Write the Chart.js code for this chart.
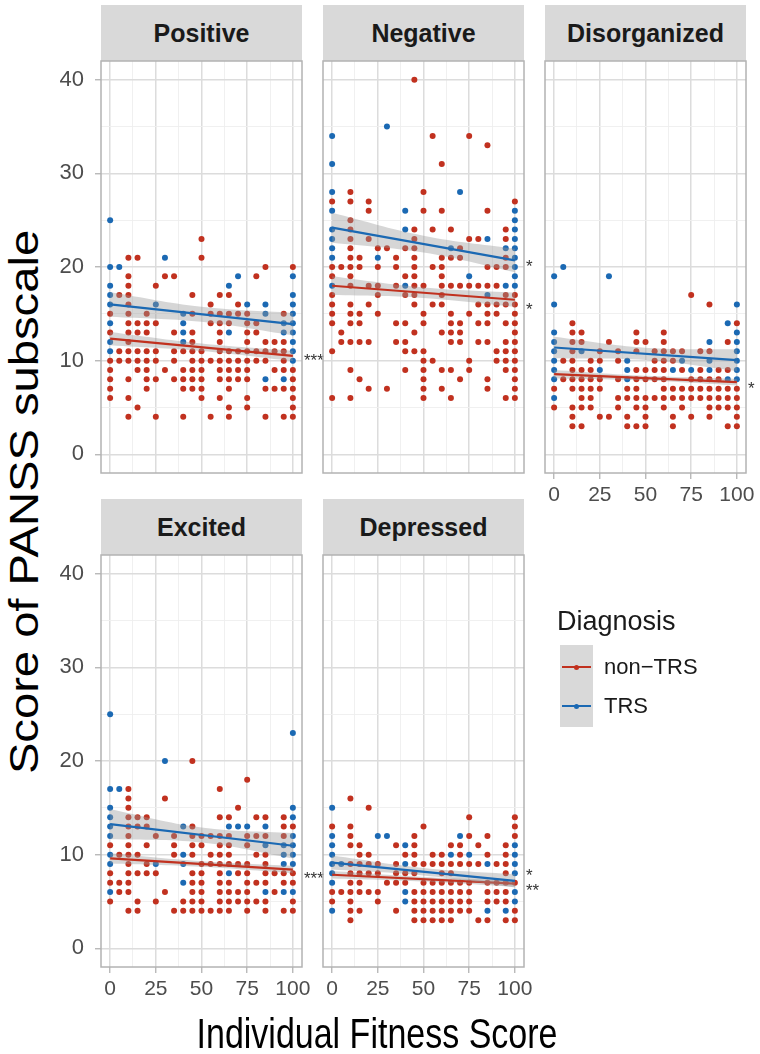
<!DOCTYPE html>
<html>
<head>
<meta charset="utf-8">
<script src="https://cdn.jsdelivr.net/npm/chart.js@4.4.1/dist/chart.umd.min.js"></script>
<style>
  body { margin: 0; background: #fff; width: 760px; height: 1054px; position: relative; overflow: hidden;
         font-family: "Liberation Sans", Arial, sans-serif; }
  canvas { position: absolute; }
  .strip { position: absolute; background: #d9d9d9; color: #1a1a1a; font-weight: bold; font-size: 25px;
           text-align: center; }
  .txt { position: absolute; white-space: nowrap; color: #000; }
</style>
</head>
<body>
<div id="root"></div>
<script>
// facets
var panelNames = ['Positive', 'Negative', 'Disorganized', 'Excited', 'Depressed'];

// tick labels
var xMajor = [0, 25, 50, 75, 100];
var xMinor = [12.5, 37.5, 62.5, 87.5];
var yMajor = [0, 10, 20, 30, 40];
var yMinor = [5, 15, 25, 35];

// points: [fitness score, [PANSS scores at that x]]
var positiveNonTRS = [[0,[15,13,10,9,8,7,6]],[5,[17,11,10]],[10,[21,19,18,17,16,15,14,13,12,11,10,8,6,4]],
  [15,[21,14,13,11,10,9,5]],[20,[15,14,13,11,10,9,8,7]],[25,[18,14,11,10,8,4]],[30,[19,9]],[35,[19,13,11,10,8]],
  [40,[11,9,8,7,4]],[45,[17,15,13,12,11,10,9,8,7]],[50,[23,21,11,10,9,8,7,6]],[55,[16,15,14,10,4]],
  [60,[17,15,14,13,12,11,10,9,8,6]],[65,[17,15,14,11,10,9,8,7,5,4]],[70,[16,15,11,10,9,8]],
  [75,[15,14,13,12,11,10,9,8,6,5]],[80,[19,14,13,11,10]],[85,[20,12,11,10,7,4]],[90,[12,11,9,7]],
  [95,[15,12,11,10,9,7,4]],[100,[20,9,8,7,6,5,4]]];
var positiveTRS = [[0,[25,20,18,17,16,14,12,11]],[5,[20]],[25,[16]],[30,[21]],[40,[15,14,13,12]],[65,[18,13]],
  [70,[19]],[75,[16]],[85,[16,15,8]],[95,[14,13,8]],[100,[19,17,16,15,14,13,12,11,10]]];

var negativeNonTRS = [[0,[27,20,19,17,16,15,14,11,6]],[5,[20,13,12]],[10,[28,27,25,24,23,22,21,20,19,18,16,15,14,12,9,6]],
  [15,[21,20,15,14,12,8]],[20,[27,26,23,18,16,12,7]],[25,[22,20,18,17,15]],[30,[22,7]],[35,[21,20,18,14,12]],
  [40,[22,19,17,14,12,11,9]],[45,[40,24,23,22,21,20,19,18,17,16,13,11]],[50,[28,26,18,15,14,11,10,9,8,7,6]],
  [55,[34,24,20,16,10]],[60,[31,26,21,20,19,18,17,16,13,9,7]],[65,[24,21,18,15,14,13,12,9,6]],
  [70,[22,21,18,14,13,12,8]],[75,[34,23,18,15,10,9]],[80,[23,18,16,14,12]],[85,[33,26,20,18,16,15,14,12,8,7]],
  [90,[20,18,16,15,11,10]],[95,[24,23,21,20,17,16,14,12,11,10,9,6]],[100,[27,17,16,15,14,13,12,11,10,9,8,7,6]]];
var negativeTRS = [[0,[34,31,28,26,24,23,22,21,18]],[25,[21]],[30,[35]],[40,[26,24,18]],[65,[22]],[70,[28]],
  [75,[19]],[85,[23,17]],[95,[22,18]],[100,[26,25,24,23,22,21,20,19,18]]];

var disorganizedNonTRS = [[0,[7,5]],[5,[10,8]],[10,[14,13,12,11,10,9,8,7,5,4,3]],[15,[13,12,9,8,7,6,5,3]],
  [20,[10,9,8,7,6,5]],[25,[11,10,8,7,4]],[30,[12,4]],[35,[11,10,8,6,5]],[40,[7,6,4,3]],[45,[13,12,11,9,8,7,6,5,3]],
  [50,[12,9,8,6,5,4,3]],[55,[11,10,9,8,6]],[60,[13,12,11,10,9,8,7,6,5]],[65,[11,10,7,6,4,3]],[70,[11,9,7,6,5]],
  [75,[17,8,7,6,4]],[80,[11,9,8,7,6]],[85,[16,11,8,7,6,5,4]],[90,[9,8,7,6,5]],[95,[12,9,7,6,5,3]],
  [100,[14,7,6,5,4,3]]];
var disorganizedTRS = [[0,[19,16,13,12,11,10,9,8,6]],[5,[20]],[15,[11]],[25,[9]],[30,[19]],[40,[10,9,8]],[65,[9]],
  [70,[10]],[75,[9]],[85,[12,10,9]],[95,[14,8]],[100,[16,13,12,11,10,9,8]]];

var excitedNonTRS = [[0,[11,8,7,5]],[5,[10,7,6]],[10,[17,16,15,14,13,12,11,10,9,8,7,6,4]],[15,[14,13,10,8,5,4]],
  [20,[14,13,11,9,8]],[25,[12,8,5]],[30,[16,6]],[35,[12,11,10,4]],[40,[5,4]],[45,[20,13,12,11,10,8,7,6,5,4]],
  [50,[12,11,9,8,7,6,5,4]],[55,[12,10,9,4]],[60,[17,14,12,11,10,9,8,7,6,5,4]],[65,[14,12,11,10,9,7,6,5,4]],
  [70,[15,9,8,6,5]],[75,[18,12,11,9,8,7,6,5,4]],[80,[14,12,10,7,5]],[85,[14,12,10,9,8,7,5,4]],[90,[8,6]],
  [95,[14,13,12,8,7,4]],[100,[13,8,7,5,4]]];
var excitedTRS = [[0,[25,17,15,14,13,12,10,9,6]],[5,[17]],[25,[9]],[30,[20]],[40,[13,10,9,7]],[65,[13,8]],
  [70,[13]],[75,[13]],[85,[13,11,6]],[95,[11,10,9,6]],[100,[23,15,14,12,11,10,9,6]]];

var depressedNonTRS = [[0,[13,6,5]],[5,[6]],[10,[16,13,12,11,9,8,7,6,5,4,3]],[15,[11,10,9,8,7,6,4]],
  [20,[15,10,9,8,6]],[25,[9,8,6,5]],[30,[7]],[35,[11,9,8,7,4]],[40,[10,8,7]],[45,[12,11,10,9,8,6,5,4,3]],
  [50,[13,9,7,6,5,4,3]],[55,[10,9,7,6,5,4,3]],[60,[10,9,8,7,6,5,4,3]],[65,[11,9,8,7,6,5,4,3]],
  [70,[11,10,9,7,6,5,4]],[75,[14,12,9,7,6,5,4]],[80,[11,9,3]],[85,[12,10,7,6,5,3]],[90,[9,7,6,5]],
  [95,[11,10,9,8,7,6,5,3]],[100,[14,13,12,7,4,3]]];
var depressedTRS = [[0,[15,12,11,10,9,8,7,4]],[5,[9]],[25,[12]],[30,[12]],[40,[11,9,6,5]],[65,[10]],[70,[12]],
  [75,[10]],[85,[9,4]],[95,[4]],[100,[11,10,9,8,6,5]]];

// fitted lines: value at x = 0 and x = 100, per panel
var fitNonTRS = [[12.35, 10.5], [18.0, 16.5], [8.55, 7.7], [9.6, 8.4], [7.85, 6.9]];
var fitTRS = [[16.0, 13.9], [24.2, 20.7], [11.4, 10.05], [13.25, 10.95], [9.15, 7.2]];
// confidence band half widths at x = 0, 50, 100
var bandNonTRS = [[0.7, 0.4, 0.55], [1.0, 0.55, 0.75], [0.45, 0.25, 0.35], [0.55, 0.3, 0.4], [0.4, 0.25, 0.35]];
var bandTRS = [[1.3, 0.8, 1.2], [1.6, 0.9, 1.25], [1.15, 0.65, 1.15], [1.6, 0.8, 1.35], [0.75, 0.4, 0.7]];
// significance marks at the right edge: [text, y]
var sigMarks = [[['***', 10.5]], [['*', 20.5], ['*', 15.9]], [['*', 7.5]], [['***', 7.9]], [['*', 8.2], ['**', 6.7]]];

var pointSets = [
  [positiveNonTRS, positiveTRS], [negativeNonTRS, negativeTRS], [disorganizedNonTRS, disorganizedTRS],
  [excitedNonTRS, excitedTRS], [depressedNonTRS, depressedTRS]
];

// layout: plot left, plot top, y labels, x labels
var boxes = [[101, 61, true, false], [323, 61, false, false], [545, 61, false, true],
             [101, 555, true, true], [323, 555, false, true]];
var PW = 201, PH = 412, PADL = 4, PADT = 4, PADR = 34, PADB = 4, YW = 50, XH = 42;

var RED = '#c1311f', BLUE = '#1b69b3';
var FONT = '"Liberation Sans", Arial, sans-serif';

function expand(cols) {
  var pts = [];
  cols.forEach(function (c) {
    c[1].forEach(function (y) { pts.push({ x: c[0], y: y }); });
  });
  return pts;
}

function bandEdge(fit, band, sign) {
  var mid = (fit[0] + fit[1]) / 2;
  return [{ x: 0, y: fit[0] + sign * band[0] }, { x: 50, y: mid + sign * band[1] }, { x: 100, y: fit[1] + sign * band[2] }];
}

function isMajor(v, majors) { return majors.indexOf(v) >= 0; }

function makeScale(axis, showLabels) {
  var majors = axis === 'x' ? xMajor : yMajor;
  var minors = axis === 'x' ? xMinor : yMinor;
  var all = majors.concat(minors).sort(function (a, b) { return a - b; });
  return {
    type: 'linear',
    min: axis === 'x' ? -5 : -2,
    max: axis === 'x' ? 105 : 42,
    afterBuildTicks: function (s) { s.ticks = all.map(function (v) { return { value: v }; }); },
    afterFit: function (s) {
      if (axis === 'x') s.height = showLabels ? XH : 0;
      else s.width = showLabels ? YW : 0;
      s.paddingLeft = 0; s.paddingRight = 0; s.paddingTop = 0; s.paddingBottom = 0;
    },
    ticks: {
      display: showLabels,
      autoSkip: false,
      maxRotation: 0,
      padding: axis === 'x' ? 4 : 11,
      color: '#4d4d4d',
      font: { size: axis === 'x' ? 21 : 22, family: FONT },
      callback: function (v) { return isMajor(v, majors) ? String(v) : ''; }
    },
    grid: {
      color: function (c) { return isMajor(c.tick.value, majors) ? '#dcdcdc' : '#eeeeee'; },
      lineWidth: function (c) { return isMajor(c.tick.value, majors) ? 1.5 : 0.9; },
      drawTicks: showLabels,
      tickLength: 6,
      tickWidth: 1.3,
      tickColor: function (c) { return isMajor(c.tick.value, majors) ? '#b3b3b3' : 'rgba(0,0,0,0)'; }
    },
    border: { display: false }
  };
}

function decoPlugin(idx) {
  return {
    id: 'deco',
    afterDraw: function (chart) {
      var a = chart.chartArea, ctx = chart.ctx, ys = chart.scales.y;
      ctx.save();
      ctx.strokeStyle = '#b3b3b3';
      ctx.lineWidth = 1.5;
      ctx.strokeRect(a.left, a.top, a.right - a.left, a.bottom - a.top);
      ctx.fillStyle = '#333';
      ctx.font = '17px ' + FONT;
      ctx.textAlign = 'left';
      ctx.textBaseline = 'alphabetic';
      sigMarks[idx].forEach(function (m) {
        ctx.fillText(m[0], a.right + 2, ys.getPixelForValue(m[1]) + 10);
      });
      ctx.restore();
    }
  };
}

var root = document.getElementById('root');

function addText(txt, css) {
  var d = document.createElement('div');
  d.className = 'txt';
  d.textContent = txt;
  for (var k in css) d.style[k] = css[k];
  root.appendChild(d);
  return d;
}

panelNames.forEach(function (name, i) {
  var b = boxes[i];
  var yw = b[2] ? YW : 0, xh = b[3] ? XH : 0;

  // strip
  var s = document.createElement('div');
  s.className = 'strip';
  s.style.left = b[0] + 'px';
  s.style.width = PW + 'px';
  s.style.top = (b[1] - 56) + 'px';
  s.style.height = '56px';
  s.style.lineHeight = '56px';
  s.textContent = name;
  root.appendChild(s);

  var cv = document.createElement('canvas');
  cv.width = PADL + yw + PW + PADR;
  cv.height = PADT + PH + xh + PADB;
  cv.style.left = (b[0] - yw - PADL) + 'px';
  cv.style.top = (b[1] - PADT) + 'px';
  root.appendChild(cv);

  var grey = 'rgba(153,153,153,0.4)';
  new Chart(cv.getContext('2d'), {
    type: 'scatter',
    data: {
      datasets: [
        { label: 'non-TRS', data: expand(pointSets[i][0]), backgroundColor: RED, borderWidth: 0, pointRadius: 3, order: 10 },
        { label: 'TRS', data: expand(pointSets[i][1]), backgroundColor: BLUE, borderWidth: 0, pointRadius: 3, order: 9 },
        { type: 'line', data: bandEdge(fitNonTRS[i], bandNonTRS[i], 1), fill: '+1', backgroundColor: grey,
          borderWidth: 0, pointRadius: 0, tension: 0.4, order: 8 },
        { type: 'line', data: bandEdge(fitNonTRS[i], bandNonTRS[i], -1), fill: false,
          borderWidth: 0, pointRadius: 0, tension: 0.4, order: 8 },
        { type: 'line', data: [{ x: 0, y: fitNonTRS[i][0] }, { x: 100, y: fitNonTRS[i][1] }], borderColor: RED,
          borderWidth: 2.2, pointRadius: 0, fill: false, order: 7 },
        { type: 'line', data: bandEdge(fitTRS[i], bandTRS[i], 1), fill: '+1', backgroundColor: grey,
          borderWidth: 0, pointRadius: 0, tension: 0.4, order: 6 },
        { type: 'line', data: bandEdge(fitTRS[i], bandTRS[i], -1), fill: false,
          borderWidth: 0, pointRadius: 0, tension: 0.4, order: 6 },
        { type: 'line', data: [{ x: 0, y: fitTRS[i][0] }, { x: 100, y: fitTRS[i][1] }], borderColor: BLUE,
          borderWidth: 2.2, pointRadius: 0, fill: false, order: 5 }
      ]
    },
    options: {
      responsive: false,
      animation: false,
      layout: { padding: { left: PADL, top: PADT, right: PADR, bottom: PADB } },
      plugins: { legend: { display: false }, tooltip: { enabled: false } },
      scales: { x: makeScale('x', b[3]), y: makeScale('y', b[2]) }
    },
    plugins: [decoPlugin(i)]
  });
});

// axis titles
addText('Individual Fitness Score', { left: '377px', top: '1033px', fontSize: '34px',
  transform: 'translate(-50%, -50%) scaleY(1.25)', lineHeight: '1' });
addText('Score of PANSS subscale', { left: '24px', top: '502px', fontSize: '41px',
  transform: 'translate(-50%, -50%) rotate(-90deg) scaleX(1.15)', lineHeight: '1' });

// legend
addText('Diagnosis', { left: '557px', top: '621px', fontSize: '27px', transform: 'translateY(-50%)', lineHeight: '1', color: '#1a1a1a' });
var key = document.createElement('div');
key.style.cssText = 'position:absolute;left:560px;top:645px;width:33px;height:82px;background:#d9d9d9;';
root.appendChild(key);
[[RED, 22, 'non\u2212TRS'], [BLUE, 61, 'TRS']].forEach(function (k) {
  var ln = document.createElement('div');
  ln.style.cssText = 'position:absolute;left:2px;width:29px;height:2px;background:' + k[0] + ';top:' + (k[1] - 1) + 'px;';
  key.appendChild(ln);
  var dot = document.createElement('div');
  dot.style.cssText = 'position:absolute;left:14px;width:5px;height:5px;border-radius:50%;background:' + k[0] + ';top:' + (k[1] - 2.5) + 'px;';
  key.appendChild(dot);
  addText(k[2], { left: '604px', top: (645 + k[1]) + 'px', fontSize: '22px', transform: 'translateY(-50%)', lineHeight: '1', color: '#1a1a1a' });
});
</script>
</body>
</html>
